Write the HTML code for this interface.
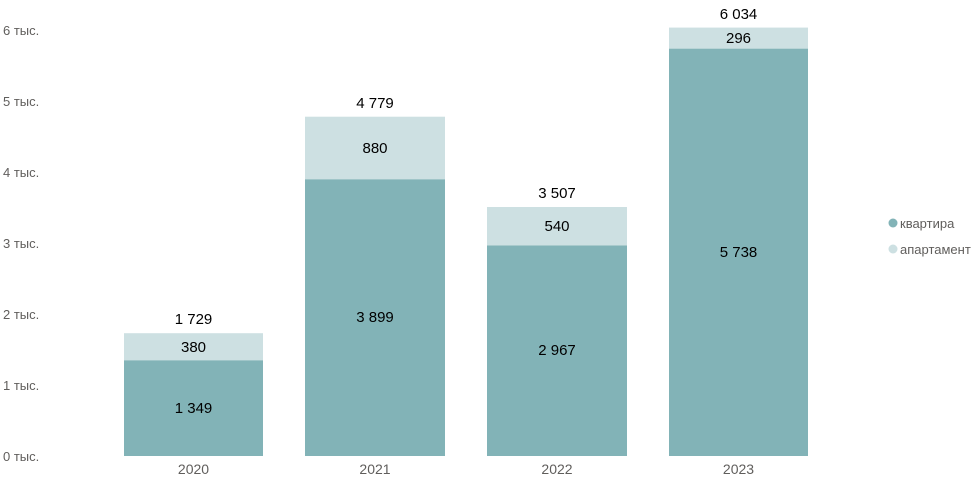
<!DOCTYPE html>
<html><head><meta charset="utf-8"><style>
body{margin:0;background:#fff;}
svg text{font-family:"Liberation Sans",sans-serif;}
</style></head><body>
<svg width="977" height="479" xmlns="http://www.w3.org/2000/svg">
<g fill="#605e5c" font-size="13">
<text x="3" y="461">0 тыс.</text>
<text x="3" y="390">1 тыс.</text>
<text x="3" y="319">2 тыс.</text>
<text x="3" y="248">3 тыс.</text>
<text x="3" y="177">4 тыс.</text>
<text x="3" y="106">5 тыс.</text>
<text x="3" y="35">6 тыс.</text>
</g>
<g fill="#82b3b7">
<rect x="124" y="360.2" width="139" height="95.8"/>
<rect x="305" y="179.2" width="140" height="276.8"/>
<rect x="487" y="245.3" width="140" height="210.7"/>
<rect x="669" y="48.6" width="139" height="407.4"/>
</g>
<g fill="#cde0e2">
<rect x="124" y="333.2" width="139" height="27"/>
<rect x="305" y="116.7" width="140" height="62.5"/>
<rect x="487" y="207" width="140" height="38.3"/>
<rect x="669" y="27.6" width="139" height="21"/>
</g>
<g fill="#000" font-size="15" text-anchor="middle">
<text x="193.5" y="413">1 349</text>
<text x="193.5" y="352">380</text>
<text x="193.5" y="324">1 729</text>
<text x="375" y="322">3 899</text>
<text x="375" y="153">880</text>
<text x="375" y="108">4 779</text>
<text x="557" y="355">2 967</text>
<text x="557" y="231">540</text>
<text x="557" y="198">3 507</text>
<text x="738.5" y="257">5 738</text>
<text x="738.5" y="43">296</text>
<text x="738.5" y="19">6 034</text>
</g>
<g fill="#605e5c" font-size="14" text-anchor="middle">
<text x="193.5" y="474">2020</text>
<text x="375" y="474">2021</text>
<text x="557" y="474">2022</text>
<text x="738.5" y="474">2023</text>
</g>
<circle cx="893" cy="223" r="4.5" fill="#82b3b7"/>
<circle cx="893" cy="249" r="4.5" fill="#cde0e2"/>
<g fill="#605e5c" font-size="13">
<text x="900" y="228">квартира</text>
<text x="900" y="254">апартамент</text>
</g>
</svg>
</body></html>
